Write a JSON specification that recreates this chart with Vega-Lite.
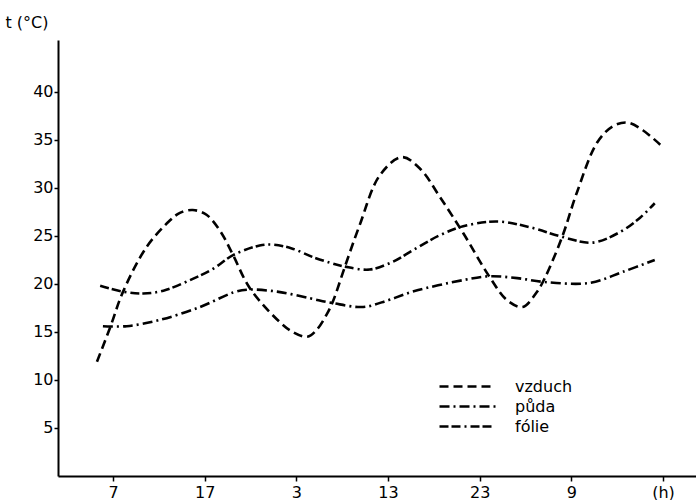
{
  "$schema": "https://vega.github.io/schema/vega-lite/v6.json",
  "autosize": {"type": "none"},
  "padding": {"left": 58, "top": 40, "right": 0, "bottom": 24},
  "width": 638,
  "height": 436,
  "background": "white",
  "config": {
    "view": {"stroke": null},
    "font": "DejaVu Sans",
    "axis": {"labelColor": "black", "titleColor": "black", "domainColor": "black", "tickColor": "black", "grid": false}
  },
  "data": {
    "values": [
      {"h": 5.25, "t": 11.9, "s": "vzduch"},
      {"h": 6.7, "t": 15.5, "s": "vzduch"},
      {"h": 8.1, "t": 19.2, "s": "vzduch"},
      {"h": 10.7, "t": 23.9, "s": "vzduch"},
      {"h": 13.2, "t": 26.6, "s": "vzduch"},
      {"h": 14.3, "t": 27.4, "s": "vzduch"},
      {"h": 15.7, "t": 27.7, "s": "vzduch"},
      {"h": 17.2, "t": 27.2, "s": "vzduch"},
      {"h": 18.7, "t": 25.5, "s": "vzduch"},
      {"h": 20.1, "t": 23.0, "s": "vzduch"},
      {"h": 21.9, "t": 19.6, "s": "vzduch"},
      {"h": 24.9, "t": 16.3, "s": "vzduch"},
      {"h": 26.6, "t": 15.0, "s": "vzduch"},
      {"h": 28.2, "t": 14.5, "s": "vzduch"},
      {"h": 29.2, "t": 15.2, "s": "vzduch"},
      {"h": 30.3, "t": 16.8, "s": "vzduch"},
      {"h": 31.0, "t": 18.2, "s": "vzduch"},
      {"h": 32.3, "t": 21.8, "s": "vzduch"},
      {"h": 33.9, "t": 26.1, "s": "vzduch"},
      {"h": 36.1, "t": 31.3, "s": "vzduch"},
      {"h": 38.5, "t": 33.2, "s": "vzduch"},
      {"h": 40.5, "t": 32.0, "s": "vzduch"},
      {"h": 42.7, "t": 29.0, "s": "vzduch"},
      {"h": 45.2, "t": 25.3, "s": "vzduch"},
      {"h": 48.1, "t": 20.7, "s": "vzduch"},
      {"h": 50.0, "t": 18.3, "s": "vzduch"},
      {"h": 51.7, "t": 17.6, "s": "vzduch"},
      {"h": 53.2, "t": 19.1, "s": "vzduch"},
      {"h": 54.1, "t": 20.6, "s": "vzduch"},
      {"h": 56.0, "t": 24.9, "s": "vzduch"},
      {"h": 57.6, "t": 29.5, "s": "vzduch"},
      {"h": 59.8, "t": 34.7, "s": "vzduch"},
      {"h": 61.5, "t": 36.4, "s": "vzduch"},
      {"h": 63.1, "t": 36.8, "s": "vzduch"},
      {"h": 64.8, "t": 36.0, "s": "vzduch"},
      {"h": 66.7, "t": 34.5, "s": "vzduch"},
      {"h": 5.6, "t": 19.8, "s": "fólie"},
      {"h": 8.1, "t": 19.2, "s": "fólie"},
      {"h": 10.3, "t": 19.0, "s": "fólie"},
      {"h": 12.5, "t": 19.3, "s": "fólie"},
      {"h": 15.4, "t": 20.4, "s": "fólie"},
      {"h": 17.8, "t": 21.5, "s": "fólie"},
      {"h": 20.1, "t": 23.0, "s": "fólie"},
      {"h": 23.0, "t": 24.0, "s": "fólie"},
      {"h": 24.4, "t": 24.1, "s": "fólie"},
      {"h": 26.5, "t": 23.7, "s": "fólie"},
      {"h": 28.8, "t": 22.8, "s": "fólie"},
      {"h": 30.7, "t": 22.2, "s": "fólie"},
      {"h": 32.3, "t": 21.8, "s": "fólie"},
      {"h": 35.0, "t": 21.5, "s": "fólie"},
      {"h": 37.5, "t": 22.3, "s": "fólie"},
      {"h": 39.7, "t": 23.5, "s": "fólie"},
      {"h": 42.5, "t": 25.0, "s": "fólie"},
      {"h": 45.2, "t": 26.0, "s": "fólie"},
      {"h": 48.9, "t": 26.5, "s": "fólie"},
      {"h": 52.5, "t": 25.9, "s": "fólie"},
      {"h": 56.0, "t": 24.9, "s": "fólie"},
      {"h": 59.3, "t": 24.3, "s": "fólie"},
      {"h": 62.3, "t": 25.4, "s": "fólie"},
      {"h": 64.5, "t": 26.9, "s": "fólie"},
      {"h": 66.1, "t": 28.4, "s": "fólie"},
      {"h": 5.9, "t": 15.6, "s": "půda"},
      {"h": 8.5, "t": 15.6, "s": "půda"},
      {"h": 12.1, "t": 16.25, "s": "půda"},
      {"h": 16.5, "t": 17.6, "s": "půda"},
      {"h": 20.1, "t": 19.1, "s": "půda"},
      {"h": 21.6, "t": 19.4, "s": "půda"},
      {"h": 24.9, "t": 19.2, "s": "půda"},
      {"h": 28.5, "t": 18.5, "s": "půda"},
      {"h": 31.0, "t": 18.0, "s": "půda"},
      {"h": 34.3, "t": 17.6, "s": "půda"},
      {"h": 37.0, "t": 18.3, "s": "půda"},
      {"h": 39.7, "t": 19.2, "s": "půda"},
      {"h": 45.2, "t": 20.4, "s": "půda"},
      {"h": 48.1, "t": 20.8, "s": "půda"},
      {"h": 51.1, "t": 20.6, "s": "půda"},
      {"h": 54.1, "t": 20.2, "s": "půda"},
      {"h": 59.0, "t": 20.1, "s": "půda"},
      {"h": 62.6, "t": 21.25, "s": "půda"},
      {"h": 66.1, "t": 22.5, "s": "půda"}
    ]
  },
  "mark": {"type": "line", "interpolate": "catmull-rom", "strokeWidth": 2.6, "color": "black"},
  "encoding": {
    "x": {
      "field": "h", "type": "quantitative",
      "scale": {"domain": [1.0, 70.6], "nice": false, "zero": false},
      "axis": {
        "values": [7, 17, 27, 37, 47, 57, 67],
        "labelExpr": "datum.value == 67 ? '(h)' : '' + (datum.value % 24)",
        "title": null,
        "domainWidth": 2,
        "tickSize": 5,
        "tickWidth": 1.5,
        "labelFontSize": 16,
        "labelPadding": 3,
        "labelFlush": false
      }
    },
    "y": {
      "field": "t", "type": "quantitative",
      "scale": {"domain": [0, 45.4], "nice": false},
      "axis": {
        "values": [5, 10, 15, 20, 25, 30, 35, 40],
        "title": "t (°C)",
        "titleAngle": 0,
        "titleX": -53,
        "titleY": -18,
        "titleAlign": "left",
        "titleBaseline": "middle",
        "titleFontSize": 16,
        "titleFontWeight": "normal",
        "domainWidth": 2,
        "tickSize": 4,
        "tickWidth": 1.5,
        "labelFontSize": 16,
        "labelPadding": 1
      }
    },
    "strokeDash": {
      "field": "s", "type": "nominal",
      "scale": {"domain": ["vzduch", "půda", "fólie"], "range": [[9, 5], [10, 4, 2, 4], [9, 3, 9, 4, 2, 4]]},
      "legend": {
        "title": null,
        "orient": "none",
        "legendX": 380,
        "legendY": 337,
        "symbolType": "M-1,0H6",
        "symbolSize": 256,
        "symbolStrokeWidth": 2.5,
        "symbolStrokeColor": "black",
        "labelFontSize": 16,
        "labelColor": "black",
        "labelOffset": 58,
        "rowPadding": 2
      }
    },
    "detail": {"field": "s"}
  }
}
